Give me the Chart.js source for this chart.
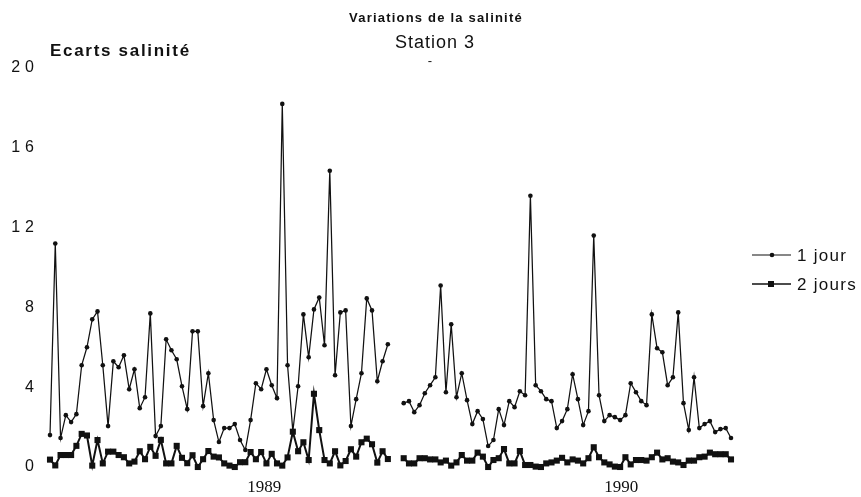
<!DOCTYPE html>
<html>
<head>
<meta charset="utf-8">
<script src="https://cdn.jsdelivr.net/npm/chart.js@4/dist/chart.umd.min.js"></script>
<style>
  html, body { margin: 0; padding: 0; background: #fff; }
  #wrap { width: 861px; height: 497px; }
</style>
</head>
<body>
<div id="wrap"><canvas id="c" width="861" height="497"></canvas></div>
<script>
// Salinity deviation series (two gaps separate the 1989 and 1990 campaigns)
const seriesNames = ['1 jour', '2 jours'];

const ecart1jour = [
  1.6, 11.2, 1.45, 2.6, 2.25, 2.65, 5.1, 6.0, 7.4, 7.8,
  5.1, 2.05, 5.3, 5.0, 5.6, 3.9, 4.9, 2.95, 3.5, 7.7,
  1.55, 2.05, 6.4, 5.85, 5.4, 4.05, 2.9, 6.8, 6.8, 3.05,
  4.7, 2.35, 1.25, 1.95, 1.95, 2.15, 1.35, 0.85, 2.35, 4.2,
  3.9, 4.9, 4.1, 3.45, 18.2, 5.1, 1.8, 4.05, 7.65, 5.5,
  7.9, 8.5, 6.1, 14.85, 4.6, 7.75, 7.85, 2.05, 3.4, 4.7,
  8.45, 7.85, 4.3, 5.3, 6.15,
  null, null,
  3.2, 3.3, 2.75, 3.1, 3.7, 4.1, 4.5, 9.1, 3.75, 7.15,
  3.5, 4.7, 3.35, 2.15, 2.8, 2.4, 1.05, 1.35, 2.9, 2.1,
  3.3, 3.0, 3.8, 3.6, 13.6, 4.1, 3.8, 3.4, 3.3, 1.95,
  2.3, 2.9, 4.65, 3.4, 2.1, 2.8, 11.6, 3.6, 2.3, 2.6,
  2.5, 2.35, 2.6, 4.2, 3.75, 3.3, 3.1, 7.65, 5.95, 5.75,
  4.1, 4.5, 7.75, 3.2, 1.85, 4.5, 1.95, 2.15, 2.3, 1.75,
  1.9, 1.95, 1.45
];

const ecart2jours = [
  0.37, 0.08, 0.6, 0.6, 0.6, 1.06, 1.66, 1.58, 0.07, 1.35,
  0.18, 0.77, 0.77, 0.6, 0.49, 0.18, 0.27, 0.79, 0.39, 1.01,
  0.56, 1.36, 0.18, 0.18, 1.06, 0.46, 0.19, 0.59, 0.0, 0.39,
  0.8, 0.52, 0.48, 0.18, 0.07, 0.0, 0.24, 0.24, 0.75, 0.39,
  0.75, 0.18, 0.66, 0.18, 0.07, 0.48, 1.77, 0.79, 1.24, 0.35,
  3.67, 1.85, 0.35, 0.18, 0.79, 0.08, 0.3, 0.89, 0.52, 1.24,
  1.42, 1.14, 0.22, 0.79, 0.4,
  null, null,
  0.44, 0.18, 0.18, 0.44, 0.44, 0.38, 0.38, 0.23, 0.32, 0.07,
  0.23, 0.6, 0.32, 0.32, 0.72, 0.52, 0.0, 0.35, 0.44, 0.9,
  0.18, 0.18, 0.8, 0.1, 0.1, 0.02, 0.0, 0.18, 0.23, 0.32,
  0.46, 0.23, 0.38, 0.32, 0.18, 0.44, 0.99, 0.49, 0.23, 0.13,
  0.02, 0.0, 0.49, 0.13, 0.35, 0.35, 0.32, 0.49, 0.72, 0.38,
  0.44, 0.27, 0.23, 0.1, 0.32, 0.32, 0.49, 0.52, 0.72, 0.64,
  0.64, 0.64, 0.38
];

// Year labels on the time axis and the sample index each one sits under
const yearLabels = ['1989', '1990'];
const yearAt = [40.6, 108.2];

// Value axis ticks
const yTicks = [0, 4, 8, 12, 16, 20];

const toPoints = arr => arr.map((v, i) => ({ x: i, y: v }));

const INK = '#111';

const textPlugin = {
  id: 'salinityText',
  afterDraw(chart) {
    const ctx = chart.ctx;
    const xs = chart.scales.x, ys = chart.scales.y;
    ctx.save();
    ctx.fillStyle = INK;
    ctx.strokeStyle = INK;
    ctx.textBaseline = 'middle';
    const put = (s, x, y, font, align, sp) => {
      ctx.font = font;
      ctx.letterSpacing = (sp || 0) + 'px';
      ctx.textAlign = align;
      ctx.fillText(s, x, y);
    };
    // headings
    put('Variations de la salinité', 436, 18, 'bold 13px "Liberation Sans", Arial, sans-serif', 'center', 1.2);
    put('Station 3', 435, 43, '18px "Liberation Sans", Arial, sans-serif', 'center', 1);
    put('-', 430, 61, '13px "Liberation Sans", Arial, sans-serif', 'center', 0);
    put('Ecarts salinité', 50, 51, 'bold 17px "Liberation Sans", Arial, sans-serif', 'left', 1.7);

    // value axis labels
    yTicks.forEach(v => {
      put(String(v), 39, ys.getPixelForValue(v), '16px "Liberation Sans", Arial, sans-serif', 'right', 5);
    });
    // year labels
    yearLabels.forEach((lab, i) => {
      put(lab, xs.getPixelForValue(yearAt[i]), 488, '17px "Liberation Serif", "Times New Roman", serif', 'center', 0);
    });

    // legend
    const lx0 = 752, lx1 = 791, tx = 797;
    const rows = [255, 284];
    ctx.letterSpacing = '0px';
    // 1 jour
    ctx.lineWidth = 1.2;
    ctx.beginPath(); ctx.moveTo(lx0, rows[0]); ctx.lineTo(lx1, rows[0]); ctx.stroke();
    ctx.beginPath(); ctx.arc(772, rows[0], 2.3, 0, Math.PI * 2); ctx.fill();
    // 2 jours
    ctx.lineWidth = 1.6;
    ctx.beginPath(); ctx.moveTo(lx0, rows[1]); ctx.lineTo(lx1, rows[1]); ctx.stroke();
    ctx.fillRect(768, rows[1] - 3, 6, 6);
    put(seriesNames[0], tx, rows[0] + 1, '17px "Liberation Sans", Arial, sans-serif', 'left', 1.3);
    put(seriesNames[1], tx, rows[1] + 1, '17px "Liberation Sans", Arial, sans-serif', 'left', 1.3);
    ctx.restore();
  }
};

new Chart(document.getElementById('c'), {
  type: 'line',
  data: {
    datasets: [
      {
        label: seriesNames[1],
        data: toPoints(ecart2jours),
        borderColor: INK,
        backgroundColor: INK,
        borderWidth: 2,
        pointStyle: 'rect',
        pointRadius: 4.3,
        pointBorderWidth: 0,
        pointBackgroundColor: INK,
        spanGaps: false,
        tension: 0,
        clip: false
      },
      {
        label: seriesNames[0],
        data: toPoints(ecart1jour),
        borderColor: INK,
        backgroundColor: INK,
        borderWidth: 1.25,
        pointStyle: 'circle',
        pointRadius: 2.3,
        pointBorderWidth: 0,
        pointBackgroundColor: INK,
        spanGaps: false,
        tension: 0,
        clip: false
      }
    ]
  },
  options: {
    responsive: false,
    devicePixelRatio: 1,
    animation: false,
    events: [],
    layout: { padding: { left: 50, right: 130, top: 68, bottom: 30 } },
    plugins: {
      legend: { display: false },
      title: { display: false },
      tooltip: { enabled: false }
    },
    scales: {
      x: {
        type: 'linear',
        min: 0,
        max: ecart1jour.length - 1,
        grid: { display: false },
        border: { display: false },
        ticks: { display: false },
        afterFit: s => { s.height = 0; }
      },
      y: {
        type: 'linear',
        min: 0,
        max: 20,
        grid: { display: false },
        border: { display: false },
        ticks: { display: false, stepSize: 4 },
        afterFit: s => { s.width = 0; }
      }
    }
  },
  plugins: [textPlugin]
});
</script>
</body>
</html>
